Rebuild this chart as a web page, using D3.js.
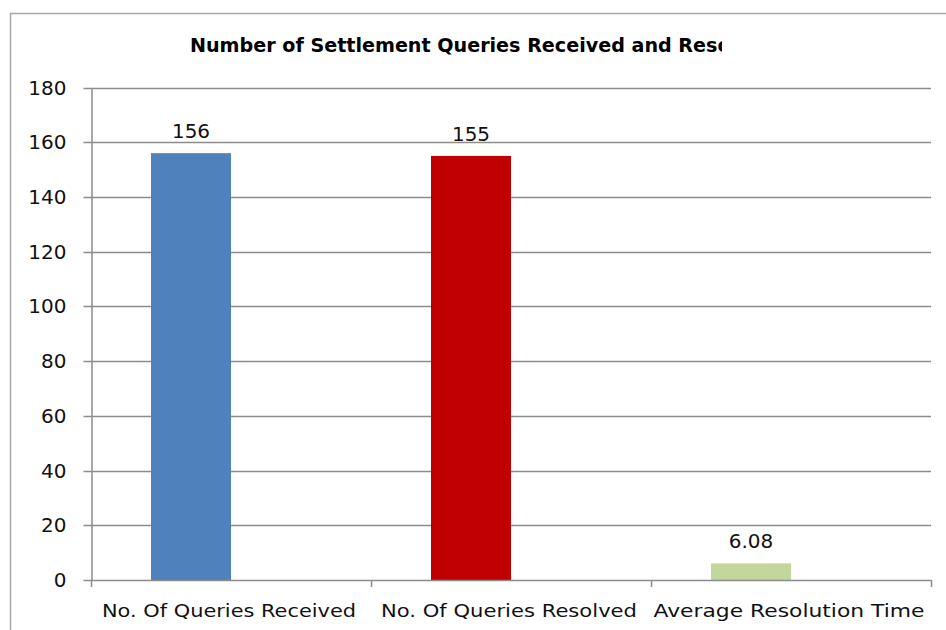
<!DOCTYPE html>
<html>
<head>
<meta charset="utf-8">
<script src="https://cdn.jsdelivr.net/npm/d3@7"></script>
<style>
  html, body { margin: 0; padding: 0; background: #ffffff; }
  svg { display: block; }
</style>
</head>
<body>
<svg id="chart" width="946" height="630"></svg>
<script>
// ---- data ----
const categories = ["No. Of Queries Received", "No. Of Queries Resolved", "Average Resolution Time"];
const values = [156, 155, 6.08];
const valueLabels = ["156", "155", "6.08"];
const barColors = ["#4F81BD", "#C00000", "#C3D69B"];
const yTicks = [0, 20, 40, 60, 80, 100, 120, 140, 160, 180];
const seriesSlots = ["value", "empty"];
const titleText = "Number of Settlement Queries Received and Resolved";
const titleVisible = "Number of Settlement Queries Received and Res";

const svg = d3.select("#chart");
const font = "'DejaVu Sans', Verdana, sans-serif";

// outer chart border (extends past the picture on right/bottom)
svg.append("rect")
  .attr("x", 10.5).attr("y", 13.5).attr("width", 1000).attr("height", 700)
  .attr("fill", "none").attr("stroke", "#a6a6a6").attr("stroke-width", 1.5);

const plot = { left: 91, right: 931, top: 87.5, bottom: 580 };

const x = d3.scaleBand().domain(categories).range([plot.left, plot.right]).padding(0);
const xSub = d3.scaleBand().domain(seriesSlots).range([0, x.bandwidth()]).paddingInner(0).paddingOuter(0.75);
const y = d3.scaleLinear().domain([0, 180]).range([plot.bottom, plot.top]);

// gridlines
svg.append("g").selectAll("line").data(yTicks.filter(d => d > 0)).join("line")
  .attr("x1", plot.left).attr("x2", plot.right)
  .attr("y1", d => Math.round(y(d)) + 0.5).attr("y2", d => Math.round(y(d)) + 0.5)
  .attr("stroke", "#8c8c8c").attr("stroke-width", 1.5);

// bars
svg.append("g").selectAll("rect").data(values).join("rect")
  .attr("x", (d, i) => x(categories[i]) + xSub("value"))
  .attr("width", xSub.bandwidth())
  .attr("y", d => y(d))
  .attr("height", d => y(0) - y(d))
  .attr("fill", (d, i) => barColors[i]);

// y axis
const yAxis = d3.axisLeft(y).tickValues(yTicks).tickSize(8).tickPadding(17).tickSizeOuter(0);
const gy = svg.append("g").attr("transform", `translate(${plot.left + 0.5},0)`).call(yAxis);
gy.select(".domain").attr("stroke", "#8c8c8c").attr("stroke-width", 1.5);
gy.selectAll(".tick line").attr("stroke", "#8c8c8c").attr("stroke-width", 1.5);
gy.selectAll(".tick text").attr("font-family", font).attr("font-size", 20).attr("fill", "#111")
  .attr("dy", "0.34em");
gy.selectAll(".tick").attr("transform", d => `translate(0,${Math.round(y(d)) + 0.5})`);

// x axis line and boundary ticks
svg.append("line").attr("x1", plot.left).attr("x2", plot.right)
  .attr("y1", plot.bottom + 0.5).attr("y2", plot.bottom + 0.5)
  .attr("stroke", "#8c8c8c").attr("stroke-width", 1.5);
const boundaries = categories.map(c => x(c)).concat([x(categories[categories.length - 1]) + x.bandwidth()]);
svg.append("g").selectAll("line").data(boundaries).join("line")
  .attr("x1", d => Math.round(d) + 0.5).attr("x2", d => Math.round(d) + 0.5)
  .attr("y1", plot.bottom).attr("y2", plot.bottom + 7)
  .attr("stroke", "#8c8c8c").attr("stroke-width", 1.5);

// category labels
const catLen = [254, 256, 271];
svg.append("g").selectAll("text").data(categories).join("text")
  .attr("x", d => x(d) + x.bandwidth() / 2 - 2)
  .attr("y", 617)
  .attr("text-anchor", "middle")
  .attr("font-family", font).attr("font-size", 17).attr("fill", "#111")
  .attr("textLength", (d, i) => catLen[i]).attr("lengthAdjust", "spacingAndGlyphs")
  .text(d => d);

// value labels
svg.append("g").selectAll("text").data(values).join("text")
  .attr("x", (d, i) => x(categories[i]) + xSub("value") + xSub.bandwidth() / 2)
  .attr("y", d => y(d) - 15)
  .attr("text-anchor", "middle")
  .attr("font-family", font).attr("font-size", 20).attr("fill", "#111")
  .text((d, i) => valueLabels[i]);

// title (clipped as in the reference)
svg.append("defs").append("clipPath").attr("id", "titleClip")
  .append("rect").attr("x", 0).attr("y", 0).attr("width", 722).attr("height", 80);
const title = svg.append("text")
  .attr("clip-path", "url(#titleClip)")
  .attr("x", 190).attr("y", 52)
  .attr("font-family", font).attr("font-weight", "bold").attr("font-size", 16)
  .attr("fill", "#000")
  .text(titleVisible);
const w16 = title.node().getComputedTextLength();
const fs = 16 * 528 / w16;
title.attr("font-size", fs).text(titleText);
</script>
</body>
</html>
